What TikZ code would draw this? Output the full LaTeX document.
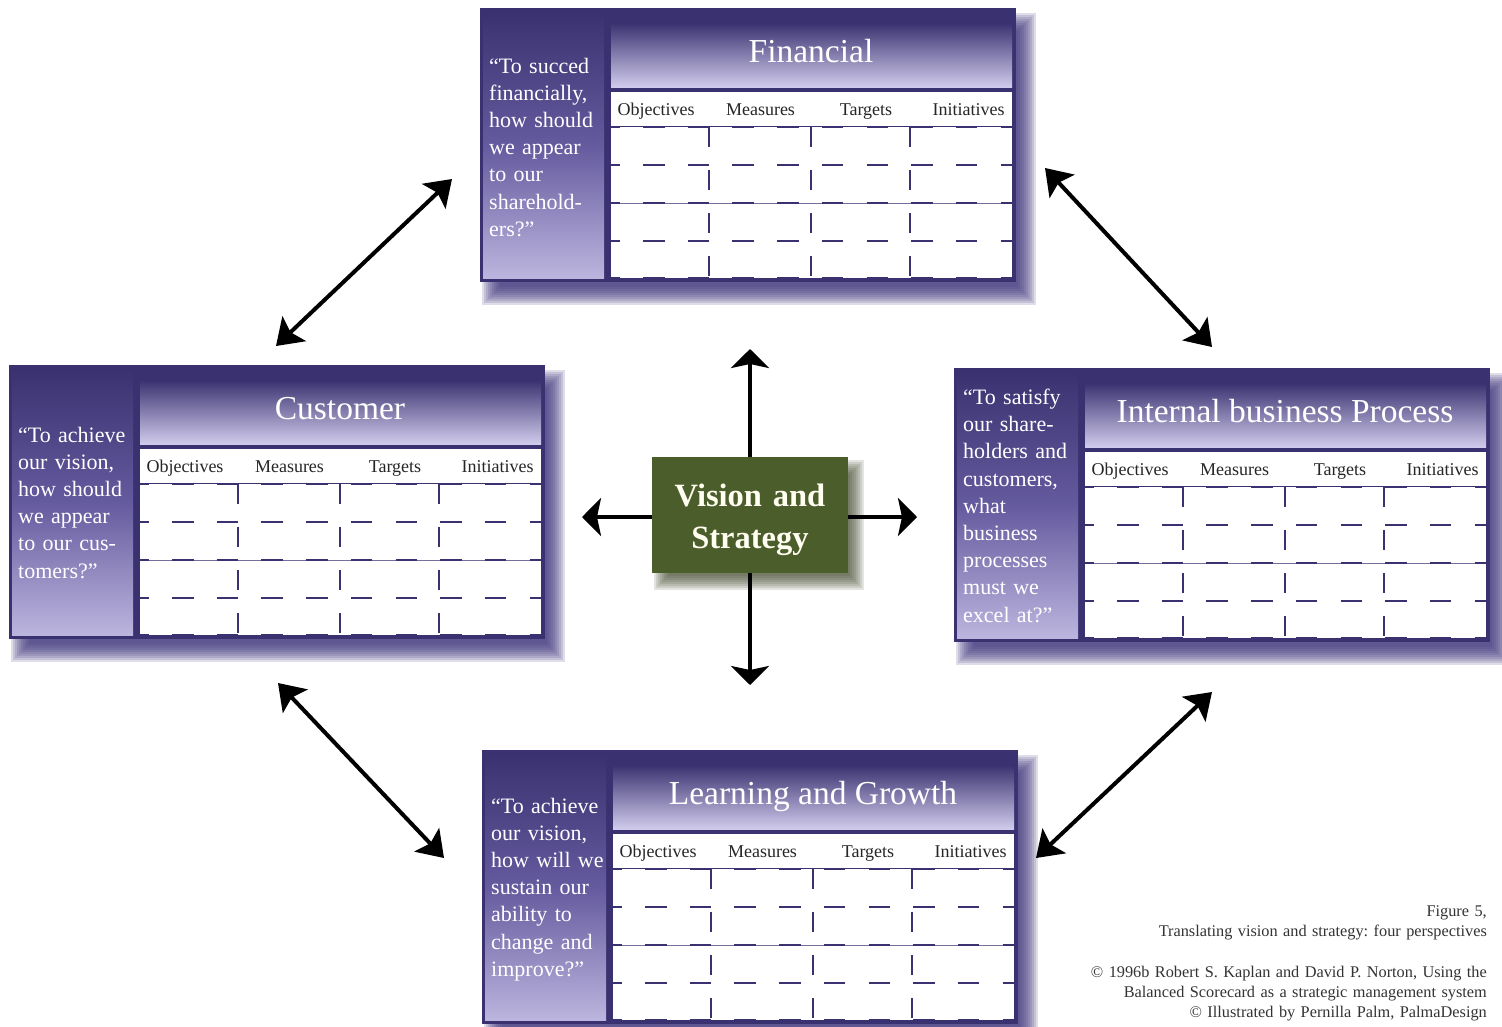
\documentclass[tikz,border=0pt]{standalone}
\usepackage{fontspec}
\setmainfont{Liberation Serif}
\frenchspacing
\usetikzlibrary{arrows.meta}
\definecolor{navy}{RGB}{58,50,112}
\definecolor{lavA}{RGB}{208,203,236}
\definecolor{lavB}{RGB}{188,181,222}
\definecolor{qmid}{RGB}{100,90,158}
\definecolor{shad}{RGB}{68,58,128}
\definecolor{vgreen}{RGB}{75,93,43}
\definecolor{vshad}{RGB}{70,78,50}
\tikzset{
  panelbox/.style={fill=navy, inner sep=0, minimum width=536pt, minimum height=274pt, anchor=north west},
  ttl/.style={text=white, font=\fontsize{33.5pt}{40pt}\selectfont, inner sep=0, anchor=base},
  hdr/.style={text=black!85, font=\fontsize{18pt}{22pt}\selectfont, inner sep=0, anchor=base},
  qt/.style={text=white, font=\fontsize{22pt}{27.2pt}\selectfont, inner sep=0, anchor=base west, text width=125pt, align=left},
  rowdash/.style={navy, line width=2.4pt, dash pattern=on 21.5pt off 23.2pt, dash phase=12.7pt},
  coldash/.style={navy, line width=2.2pt, dash pattern=on 20pt off 23pt},
  thinrule/.style={navy!70, line width=0.8pt},
  visbox/.style={fill=vgreen, minimum width=196pt, minimum height=116pt, inner sep=0},
  vistext/.style={text=white!94!yellow, font=\bfseries\fontsize{32.5pt}{42pt}\selectfont, inner sep=0, anchor=base, text width=190pt, align=center},
  bigarrow/.style={line width=4pt, -{Stealth[length=19pt, width=38pt, inset=4pt]}},
  diagarrow/.style={line width=4pt, {Stealth[length=25pt, width=34pt, inset=5pt]}-{Stealth[length=25pt, width=34pt, inset=5pt]}},
  captxt/.style={text=black!80, font=\fontsize{16.3pt}{20.3pt}\selectfont, inner sep=0, anchor=base east, text width=480pt, align=right}
}
\newcommand\bscpanel[6]{%
\begin{scope}[shift={(#2,#3)}]
  \foreach \r in {9,7,...,-9}
    \fill[shad,opacity=0.17] ({11-(\r)},{14-(\r)}) rectangle ({547+\r},{288+\r});
  \node[panelbox] (#1) at (0,0) {};
  \shade[top color=navy, bottom color=lavB, middle color=qmid] (3,4) rectangle (124,270);
  \shade[top color=navy, bottom color=lavA] (131,15) rectangle (532,79);
  \fill[white] (131,84) rectangle (532,118);
  \fill[white] (131,118.5) rectangle (532,270);
  \draw[thinrule] (131,195) -- (532,195);
  \foreach \yy in {119,157,195,233,270}
    \draw[rowdash] (131,\yy) -- (532,\yy);
  \foreach \xx in {229,331,430}
    \draw[coldash] (\xx,119) -- (\xx,270);
  \node[hdr] (#1-obj) at (176,107.5) {Objectives};
  \node[hdr] (#1-mea) at (280.5,107.5) {Measures};
  \node[hdr] (#1-tar) at (386,107.5) {Targets};
  \node[hdr] (#1-ini) at (488.5,107.5) {Initiatives};
  \node[ttl] (#1-title) at (331,54.5) {#4};
  \node[qt] (#1-quote) at (9,#6) {#5};
\end{scope}}
\begin{document}
\begin{tikzpicture}[x=1pt,y=-1pt]
\useasboundingbox (0,0) rectangle (1502,1026);
\fill[white] (0,0) rectangle (1502,1026);

\bscpanel{fin}{480}{8}{Financial}{“To succed\\financially,\\how should\\we appear\\to our\\sharehold-\\ers?”}{65}
\bscpanel{cus}{9}{365}{Customer}{“To achieve\\our vision,\\how should\\we appear\\to our cus-\\tomers?”}{77}
\bscpanel{ibp}{954}{368}{Internal business Process}{“To satisfy\\our share-\\holders and\\customers,\\what\\business\\processes\\must we\\excel at?”}{36.5}
\bscpanel{lag}{482}{750}{Learning and Growth}{“To achieve\\our vision,\\how will we\\sustain our\\ability to\\change and\\improve?”}{63}

% vision and strategy
\foreach \r in {7,5,...,-7}
  \fill[vshad,opacity=0.15] ({661-(\r)},{467-(\r)}) rectangle ({857+\r},{583+\r});
\node[visbox] (vis) at (750,515) {};
\node[vistext] (vistxt) at (750,506) {Vision and\\Strategy};

\coordinate (vup) at (750,349);
\coordinate (vdn) at (750,685);
\coordinate (vlt) at (582,517);
\coordinate (vrt) at (917,517);
\draw[bigarrow] (vis.north) -- (vup);
\draw[bigarrow] (vis.south) -- (vdn);
\draw[bigarrow] (vis.west |- vlt) -- (vlt);
\draw[bigarrow] (vis.east |- vrt) -- (vrt);

\coordinate (fc1) at (452,179);
\coordinate (fc2) at (276,346);
\coordinate (fi1) at (1045,168);
\coordinate (fi2) at (1212,347);
\coordinate (cl1) at (278,683);
\coordinate (cl2) at (444,858);
\coordinate (il1) at (1212,692);
\coordinate (il2) at (1036,858);
\draw[diagarrow] (fc1) -- (fc2);
\draw[diagarrow] (fi1) -- (fi2);
\draw[diagarrow] (cl1) -- (cl2);
\draw[diagarrow] (il1) -- (il2);

\node[captxt] (cap1) at (1487,916) {Figure 5,\\Translating vision and strategy: four perspectives};
\node[captxt] (cap2) at (1487,977) {© 1996b Robert S. Kaplan and David P. Norton, Using the\\Balanced Scorecard as a strategic management system\\© Illustrated by Pernilla Palm, PalmaDesign};
\end{tikzpicture}
\end{document}
